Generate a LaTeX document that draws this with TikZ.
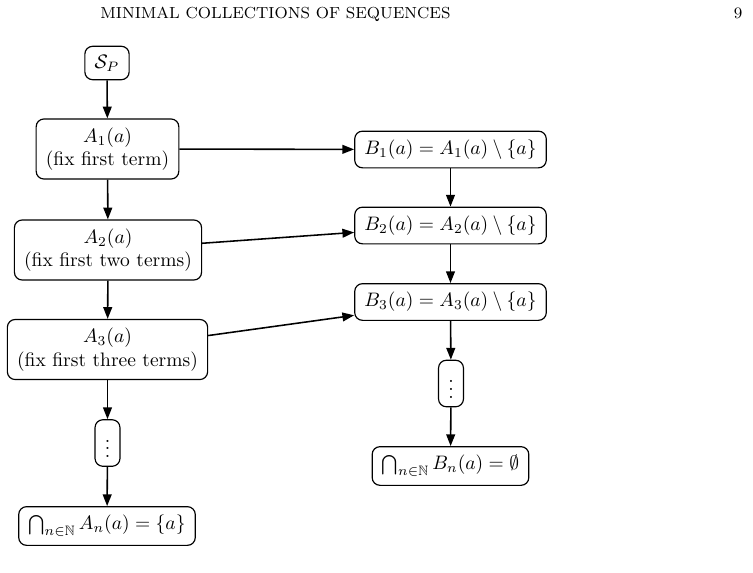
\documentclass[tikz,border=0pt]{standalone}
\usepackage{amsmath,amssymb}
\usetikzlibrary{arrows.meta}
\begin{document}
\begin{tikzpicture}[x=0.5128pt,y=-0.5128pt,
  box/.style={draw,rounded corners=4pt,align=center,inner xsep=5pt,inner ysep=4.4pt,line width=0.6pt},
  arr/.style={-{Triangle[length=6pt,width=4.5pt]},line width=0.8pt},
  hdr/.style={inner sep=0pt}]
\useasboundingbox (0,0) rectangle (753,572);
\node[hdr,anchor=base west] (head) at (100,18) {\fontsize{8.2pt}{10pt}\selectfont\spaceskip=3pt MINIMAL COLLECTIONS OF SEQUENCES};
\node[hdr,anchor=base] (page) at (738,18) {\fontsize{8.2pt}{10pt}\selectfont 9};
\node[box] (SP) at (107,63) {$\mathcal{S}_P$};
\node[box] (A1) at (107.5,149) {$A_1(a)$\\(fix first term)};
\node[box] (A2) at (108,250) {$A_2(a)$\\(fix first two terms)};
\node[box] (A3) at (107.5,349.5) {$A_3(a)$\\(fix first three terms)};
\node[box] (AD) at (107.5,443) {$\vdots$};
\node[box] (AI) at (107,526) {$\bigcap_{n\in\mathbb{N}} A_n(a)=\{a\}$};
\node[box] (B1) at (450.5,149.5) {$B_1(a)=A_1(a)\setminus\{a\}$};
\node[box] (B2) at (450.5,225.5) {$B_2(a)=A_2(a)\setminus\{a\}$};
\node[box] (B3) at (450.5,302) {$B_3(a)=A_3(a)\setminus\{a\}$};
\node[box] (BD) at (451,383.5) {$\vdots$};
\node[box] (BI) at (450.5,466) {$\bigcap_{n\in\mathbb{N}} B_n(a)=\emptyset$};
\draw[arr] (SP) -- (A1);
\draw[arr] (A1) -- (A2);
\draw[arr] (A2) -- (A3);
\draw[arr] (A3) -- (AD);
\draw[arr] (AD) -- (AI);
\draw[arr] (B1) -- (B2);
\draw[arr] (B2) -- (B3);
\draw[arr] (B3) -- (BD);
\draw[arr] (BD) -- (BI);
\draw[arr] (A1) -- (B1);
\draw[arr] (A2) -- (B2);
\draw[arr] (A3) -- (B3);
\end{tikzpicture}
\end{document}
